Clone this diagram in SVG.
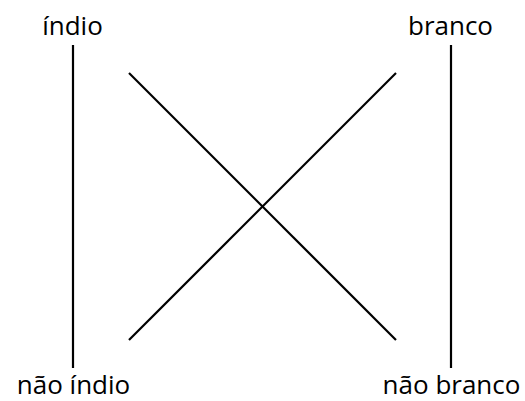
<svg xmlns="http://www.w3.org/2000/svg" width="525" height="401" viewBox="0 0 525 401">
<style>
text{font-family:"Open Sans","Liberation Sans",sans-serif;font-size:26px;fill:#000;text-anchor:middle}
line{stroke:#000;stroke-width:2.2}
</style>
<rect width="525" height="401" fill="#fff"/>
<g id="n-indio"><text x="72.5" y="35">índio</text></g>
<g id="n-branco"><text x="450.5" y="35">branco</text></g>
<g id="n-nao-indio"><text x="73.5" y="394">não índio</text></g>
<g id="n-nao-branco"><text x="451.5" y="394">não branco</text></g>
<g id="connectors">
<line x1="73" y1="45" x2="73" y2="368"/>
<line x1="451" y1="45" x2="451" y2="368"/>
<line x1="129" y1="73" x2="396" y2="340"/>
<line x1="129" y1="340" x2="396" y2="73"/>
</g>
</svg>
